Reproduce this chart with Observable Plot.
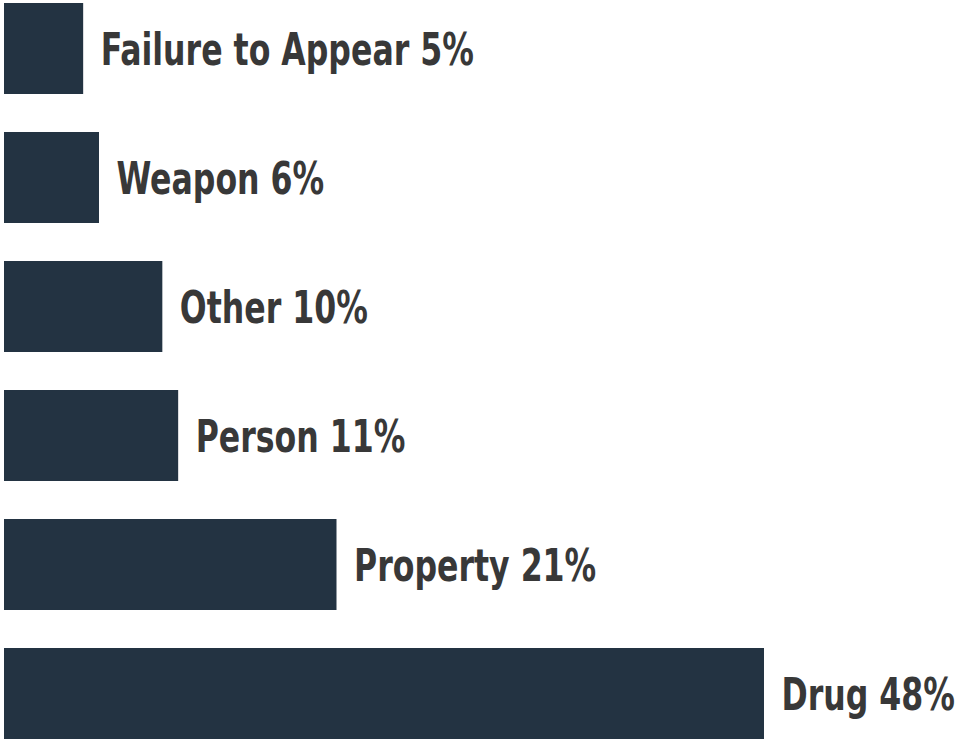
<!DOCTYPE html>
<html>
<head>
<meta charset="utf-8">
<script src="https://cdn.jsdelivr.net/npm/d3@7"></script>
<script src="https://cdn.jsdelivr.net/npm/@observablehq/plot@0.6"></script>
<style>
  html, body { margin: 0; padding: 0; background: #fff; }
  #chart svg { display: block; }
</style>
</head>
<body>
<div id="chart"></div>
<script>
const categories = ["Failure to Appear", "Weapon", "Other", "Person", "Property", "Drug"];
const shares = [5, 6, 10, 11, 21, 48];

const data = categories.map((c, i) => ({category: c, value: shares[i], label: `${c} ${shares[i]}%`}));

const chart = Plot.plot({
  width: 956,
  height: 742,
  marginLeft: 4,
  marginRight: 192,
  marginTop: 2,
  marginBottom: 2,
  x: {domain: [0, 48], axis: null},
  y: {domain: categories, axis: null, paddingInner: 0.295, paddingOuter: 0},
  style: {background: "#fff"},
  marks: [
    Plot.barX(data, {x: "value", y: "category", fill: "#233342"}),
    Plot.text(data, {
      x: "value", y: "category", text: "label",
      textAnchor: "start", dx: 17, dy: 2,
      fill: "#383838",
      fontSize: 45, fontWeight: "bold",
      fontFamily: "'DejaVu Sans Condensed', sans-serif"
    })
  ]
});
// condense labels horizontally to mimic the narrow heavy typeface
d3.select(chart).selectAll("text").each(function() {
  const t = this.getAttribute("transform") || "";
  this.setAttribute("transform", t + " scale(0.78,1)");
});
document.getElementById("chart").appendChild(chart);
</script>
</body>
</html>
